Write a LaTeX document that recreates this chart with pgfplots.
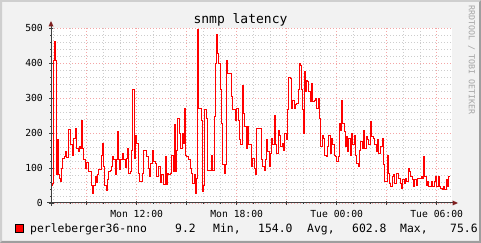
\documentclass[border=0pt]{standalone}
\usepackage{pgfplots}
\pgfplotsset{compat=1.18}
\usepackage{fontspec}
\setmainfont{DejaVu Sans Mono}
\definecolor{bgc}{RGB}{242,242,242}
\definecolor{shadeA}{RGB}{207,207,207}
\definecolor{shadeB}{RGB}{158,158,158}
\definecolor{mgrid}{RGB}{244,165,165}
\definecolor{ggrid}{RGB}{205,205,205}
\definecolor{axisc}{RGB}{64,64,64}
\definecolor{arrowc}{RGB}{127,31,31}
\definecolor{wm}{RGB}{165,165,165}
\begin{document}
\begin{tikzpicture}[x=1pt,y=1pt]
\useasboundingbox (0,0) rectangle (481,243);
\clip (0,0) rectangle (481,243);
\fill[bgc] (0,0) rectangle (481,243);
\fill[shadeA] (0,0) -- (0,243) -- (481,243) -- (479,241) -- (2,241) -- (2,2) -- cycle;
\fill[shadeB] (481,243) -- (481,0) -- (0,0) -- (2,2) -- (479,2) -- (479,241) -- cycle;
\fill[white] (51,40) rectangle (452,215);
\begin{axis}[
  at={(51pt,40pt)}, anchor=south west, scale only axis,
  width=401pt, height=175pt,
  xmin=0, xmax=401, ymin=0, ymax=500,
  axis lines=left, axis line style={draw=none},
  /pgf/number format/assume math mode=true,
  grid=both,
  major grid style={draw=mgrid, dash pattern=on 1pt off 2pt, line width=0.8pt},
  minor grid style={draw=ggrid, dash pattern=on 1pt off 2pt, line width=0.8pt},
  xtick={35.67,85.67,135.67,185.67,235.67,285.67,335.67,385.67},
  xticklabels={,Mon 12:00,,Mon 18:00,,Tue 00:00,,Tue 06:00},
  minor xtick={2.33,19,52.33,69,102.33,119,152.33,169,202.33,219,252.33,269,302.33,319,352.33,369},
  ytick={0,100,200,300,400,500},
  minor ytick={20,40,60,80,120,140,160,180,220,240,260,280,320,340,360,380,420,440,460,480},
  tick align=center, major tick length=4pt, minor tick length=2pt,
  tick style={draw=axisc, line width=0.8pt},
  yticklabel style={font=\fontsize{9.7}{10}\selectfont, inner sep=0pt, anchor=east, xshift=-6pt},
  xticklabel style={font=\fontsize{9.7}{10}\selectfont, inner sep=0pt, anchor=north, yshift=-5pt},
]
\addplot[const plot, color=red, line width=1pt] table {
x y
0 51
1 56
2.3 408
3.3 461
4.7 408
5 251
5.7 80
6.3 180
7.3 80
8.3 70
9.7 61
10.7 99
11.7 128
13 132
14 147
15.7 130
17.3 210
19 210
19.7 166
21 137
22.3 185
23.3 185
24.3 213
25.7 156
27.3 147
28.3 161
29.7 156
30.7 235
31.7 156
32.3 123
34 99
35.7 115
37.3 89
39 89
40 51
41.3 28
42.3 51
44 75
45.7 58
46.3 80
47.3 96
49 96
50 137
51 170
52.3 104
53.7 51
55 37
56.3 66
57.3 89
59 94
60 104
61 132
62.3 123
64 80
65 125
66 204
67 125
68.3 96
69.7 123
71 142
72.3 123
74 102
75 128
76.3 156
77.7 85
79 90
80.3 151
81.7 323
83 128
84.3 194
85.7 170
87 85
88.3 61
89.7 61
91 85
92.3 151
94 151
95.7 132
97.3 99
98.3 77
99.7 113
101 151
102.3 118
104 113
105.7 75
107.3 104
109 58
110.7 80
112.3 54
114 132
115 54
116.3 85
117.7 80
119 85
120.7 137
122.3 89
123.3 223
124.3 89
125.7 151
126.7 242
128.3 199
129.7 156
131 199
132.3 170
133.3 270
134.7 137
135.7 132
137.3 123
139 99
140.7 85
141.7 56
143 80
144 28
145 70
146.3 496
147.3 270
149 270
150.3 237
151.3 32
152.3 51
153.7 266
155 242
156.7 94
159 94
160.3 137
161.7 94
163 247
164 399
165 480
166.3 427
167.7 399
169 323
170.7 228
171.7 109
173 85
174 109
175 408
176.3 370
177.7 370
179 370
180 304
181.7 266
183 266
184.3 237
185.7 270
187 237
188.3 180
189.7 166
191 228
191.7 337
192.7 256
193.7 218
195 156
196.3 218
197.3 166
199 166
200.3 104
201.7 128
203 99
204.3 80
205.7 213
207.3 213
209 213
210.3 123
211.7 104
213 94
214.3 123
215.7 180
216.7 147
218 104
219 142
220.3 185
221.7 166
223 251
224.3 166
225.7 142
227 208
228.3 194
229.7 161
231 170
232.3 151
233.7 199
235 180
236.3 266
237.7 359
239 355
240.3 270
241.7 294
243 270
244.3 280
245.7 285
247 323
248 399
249 394
250 323
251 266
252.3 199
253.3 375
254.3 318
255.3 351
256.7 346
257.7 318
259 289
260.3 342
261.7 289
263 294
264.3 299
265.7 270
267 299
268.3 242
269.7 161
271 194
272.3 185
273.7 137
275 132
276.3 161
277.7 194
279 142
280.3 185
281.7 166
283 137
284.3 132
285.7 118
287 132
288.3 228
289.7 208
290.7 294
291.7 228
293 204
294 161
295 189
296.3 147
297.7 185
299 137
300.3 199
301.7 166
303 194
304.3 137
305.7 113
307 104
308.3 151
309.7 175
311 156
312.3 208
313.7 156
315 189
316.3 180
317.7 166
319 232
320.7 189
322.3 185
323.7 166
325 147
326.3 180
327.7 142
329 161
331 185
332.3 109
333.3 61
334.7 61
336 137
337 85
338.3 56
339.7 47
341 75
342.3 80
343.7 56
345 85
346.3 85
347.7 70
349 56
350.3 42
351.7 66
353 56
354.3 70
355.7 61
357 99
358.3 89
359.7 75
361 66
362.3 47
363.7 66
365 51
366.3 70
367.7 70
369 70
370.3 75
371.7 70
372.7 132
373.7 75
375 51
376.3 61
377.7 47
379 47
380.3 61
381.7 47
383 61
384.3 77
385.7 47
387 77
388.3 47
389.7 42
391 39
392.3 47
393.7 39
395 66
396.3 47
397.7 75
399 75
};
\end{axis}
% axes
\draw[axisc, line width=1pt] (47,40) -- (453,40);
\fill[arrowc] (452.5,37.5) -- (458,40) -- (452.5,42.5) -- cycle;
\draw[axisc, line width=1pt] (51,37) -- (51,217);
\fill[arrowc] (48.5,216.5) -- (51,222) -- (53.5,216.5) -- cycle;
% title
\node[font=\fontsize{13}{14}\selectfont, anchor=center] at (240.5,223.5) {snmp latency};
% watermark
\node[font=\fontsize{8.3}{9}\selectfont, text=wm, rotate=-90, anchor=center] at (471.5,183) {RRDTOOL / TOBI OETIKER};
% legend
\filldraw[fill=red, draw=black, line width=0.8pt] (15.5,10.5) rectangle (23.5,18.5);
\begin{scope}[every node/.style={font=\fontsize{11.4}{12}\selectfont, anchor=base west, inner sep=0pt}]
\node at (30,10.3) {perleberger36-nno};
\node at (175,10.3) {9.2};
\node at (213,10.3) {Min,};
\node at (258,10.3) {154.0};
\node at (307,10.3) {Avg,};
\node at (352,10.3) {602.8};
\node at (400,10.3) {Max,};
\node at (450,10.3) {75.6};
\end{scope}
\end{tikzpicture}
\end{document}
